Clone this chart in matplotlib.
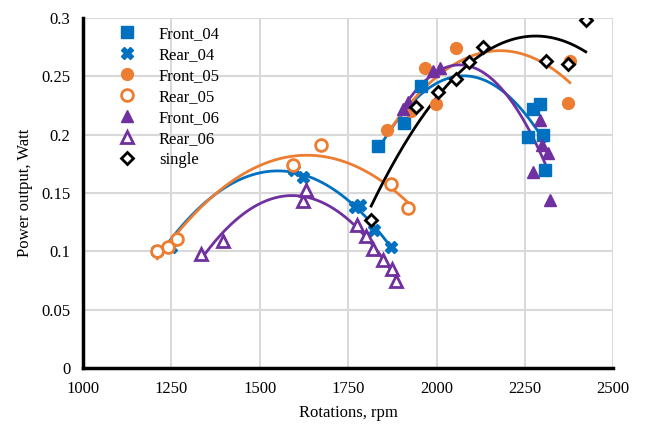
import numpy as np
import matplotlib
matplotlib.use("Agg")
from matplotlib import pyplot as plt

plt.rcParams['font.family'] = ['Liberation Serif', 'DejaVu Serif']

# data (rpm, Watt)
front04_x = [1833, 1909, 1957, 2258, 2272, 2292, 2300, 2306]
front04_y = [0.190, 0.210, 0.242, 0.198, 0.222, 0.226, 0.200, 0.170]
rear04_x = [1210, 1248, 1598, 1621, 1768, 1782, 1824, 1870]
rear04_y = [0.100, 0.104, 0.170, 0.164, 0.138, 0.140, 0.118, 0.104]
front05_x = [1861, 1928, 1966, 1999, 2056, 2371, 2377]
front05_y = [0.204, 0.220, 0.257, 0.226, 0.274, 0.227, 0.263]
rear05_x = [1210, 1240, 1267, 1593, 1673, 1872, 1919]
rear05_y = [0.100, 0.104, 0.111, 0.174, 0.191, 0.158, 0.137]
front06_x = [1905, 1920, 1990, 2010, 2272, 2292, 2297, 2315, 2320]
front06_y = [0.222, 0.228, 0.255, 0.257, 0.168, 0.213, 0.191, 0.184, 0.144]
rear06_x = [1333, 1395, 1621, 1631, 1775, 1800, 1820, 1848, 1875, 1885]
rear06_y = [0.098, 0.109, 0.143, 0.153, 0.123, 0.113, 0.102, 0.093, 0.085, 0.075]
single_x = [1815, 1942, 2003, 2056, 2093, 2130, 2311, 2371, 2422]
single_y = [0.127, 0.224, 0.237, 0.248, 0.262, 0.275, 0.263, 0.261, 0.298]

BLUE = "#0070C0"
ORANGE = "#ED7D31"
PURPLE = "#7030A0"

fig = plt.figure(figsize=(6.49, 4.32), dpi=100)
ax = fig.add_axes([0.128, 0.148, 0.817, 0.81])

series = [
    ("Front_04", front04_x, front04_y, BLUE, "s", True),
    ("Rear_04", rear04_x, rear04_y, BLUE, "X", True),
    ("Front_05", front05_x, front05_y, ORANGE, "o", True),
    ("Rear_05", rear05_x, rear05_y, ORANGE, "o", False),
    ("Front_06", front06_x, front06_y, PURPLE, "^", True),
    ("Rear_06", rear06_x, rear06_y, PURPLE, "^", False),
    ("single", single_x, single_y, "black", "D", False),
]

for name, xs, ys, clr, mk, filled in series:
    xs = np.array(xs, dtype=float)
    ys = np.array(ys)
    # 2nd order trendline like the spreadsheet
    p = np.polyfit(xs, ys, 2)
    xx = np.linspace(xs.min(), xs.max(), 200)
    ax.plot(xx, np.polyval(p, xx), color=clr, lw=2, zorder=2)
    size = 6 if mk == "D" else 8.5
    if filled:
        ax.plot(xs, ys, linestyle="none", marker=mk, ms=size, color=clr,
                mec=clr, label=name, zorder=3)
    else:
        ax.plot(xs, ys, linestyle="none", marker=mk, ms=size, mfc="white",
                mec=clr, mew=2, label=name, zorder=3)

ax.set_xlim(1000, 2500)
ax.set_ylim(0, 0.3)
ax.set_xticks([1000, 1250, 1500, 1750, 2000, 2250, 2500])
ax.set_yticks([0, 0.05, 0.1, 0.15, 0.2, 0.25, 0.3])
ax.set_yticklabels(["0", "0.05", "0.1", "0.15", "0.2", "0.25", "0.3"])
ax.tick_params(length=0, labelsize=12, pad=9)
ax.grid(True, color="#d9d9d9", lw=1.5)
ax.set_axisbelow(True)
for s in ["top", "right"]:
    ax.spines[s].set_visible(False)
for s in ["left", "bottom"]:
    ax.spines[s].set_linewidth(2.5)
    ax.spines[s].set_color("black")

ax.set_xlabel("Rotations, rpm", fontsize=12, labelpad=6)
ax.set_ylabel("Power output, Watt", fontsize=12, labelpad=6)

ax.legend(loc="upper left", bbox_to_anchor=(0.03, 1.01), frameon=False,
          fontsize=12, handletextpad=0.9, labelspacing=0.3, borderpad=0.2)

fig.savefig("out.png", dpi=100)
